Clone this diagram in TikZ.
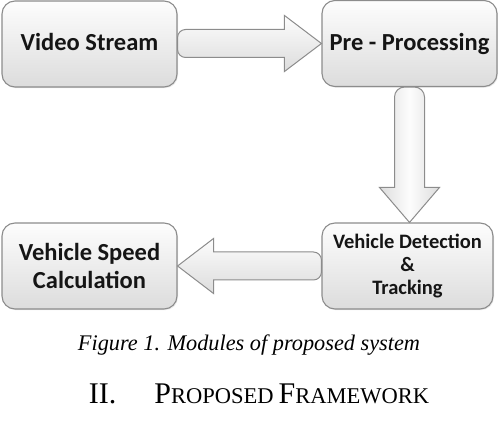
\documentclass[tikz,border=0pt]{standalone}
\usepackage{fontspec}
\setmainfont{Liberation Serif}
\newfontfamily\boxfont{Carlito}
\usetikzlibrary{calc,shadows}
\definecolor{edgegray}{HTML}{8C8C8C}
\definecolor{filltop}{HTML}{FDFDFD}
\definecolor{fillbot}{HTML}{DCDCDC}
\definecolor{txt}{HTML}{151515}
\tikzset{
  box/.style={draw=edgegray, line width=1.1pt, rounded corners=13pt,
    top color=filltop, bottom color=fillbot, shading angle=0,
    minimum width=175pt, minimum height=86pt, inner sep=0pt,
    align=center, text=txt, font=\boxfont\bfseries\fontsize{24.5}{28}\selectfont,
    drop shadow={opacity=0.18, shadow xshift=1pt, shadow yshift=-1.2pt}},
  blockarrow/.style={draw=edgegray, line width=1pt, line join=miter,
    top color=filltop, bottom color=fillbot},
  blockarrowv/.style={draw=edgegray, line width=1pt, line join=miter,
    left color=fillbot, right color=fillbot, middle color=filltop},
}
\begin{document}
\begin{tikzpicture}[x=1pt,y=-1pt]
\useasboundingbox (0,0) rectangle (498,430);
\node[box, text height=14pt, text depth=0pt] (vs) at (89.5,44) {Video Stream};
\node[box, text height=15pt, text depth=0pt] (pp) at (409.5,43.5) {Pre - Processing};
\node[box, minimum width=171pt, font=\boxfont\bfseries\fontsize{20.5}{23}\selectfont] (dt) at (407.5,266) {Vehicle Detection\\\&\\Tracking};
\node[box] (vc) at (89.5,266) {Vehicle Speed\\Calculation};
% right arrow
\path[blockarrow] let \p1=(vs.east), \p2=(pp.west) in
  (\x2-37pt,\y2+14pt) -- (\x2-37pt,\y2+28pt) -- (\x2,\y2) -- (\x2-37pt,\y2-28pt) -- (\x2-37pt,\y2-14pt)
  -- (\x1+8pt,\y2-14pt) arc[start angle=270,end angle=180,radius=8pt]
  -- (\x1,\y2+6pt) arc[start angle=180,end angle=90,radius=8pt] -- cycle;
% down arrow
\path[blockarrowv] let \p1=(pp.south), \p2=(dt.north) in
  (\x1+15pt,\y2+35pt) -- (\x1+30pt,\y2+35pt) -- (\x1,\y2) -- (\x1-30pt,\y2+35pt) -- (\x1-15pt,\y2+35pt)
  -- (\x1-15pt,\y1-10pt) arc[start angle=180,end angle=90,radius=10pt]
  -- (\x1+5pt,\y1) arc[start angle=90,end angle=0,radius=10pt] -- cycle;
% left arrow
\path[blockarrow] let \p1=(dt.west), \p2=(vc.east) in
  (\x2+36pt,\y2+14pt) -- (\x2+36pt,\y2+27.5pt) -- (\x2,\y2) -- (\x2+36pt,\y2-27.5pt) -- (\x2+36pt,\y2-14pt)
  -- (\x1-8pt,\y2-14pt) arc[start angle=270,end angle=360,radius=8pt]
  -- (\x1,\y2+6pt) arc[start angle=0,end angle=90,radius=8pt] -- cycle;
% caption and heading
\node[font=\itshape\fontsize{22.3}{26}\selectfont, anchor=base, inner sep=0pt] (cap) at (249,351) {Figure 1. Modules of proposed system};
\node[font=\fontsize{30}{34}\selectfont, anchor=base, inner sep=0pt] (head) at (259,403)
  {II.\hspace{38pt}P{\fontsize{22.5}{26}\selectfont ROPOSED}\,F{\fontsize{22.5}{26}\selectfont RAMEWORK}};
\end{tikzpicture}
\end{document}
